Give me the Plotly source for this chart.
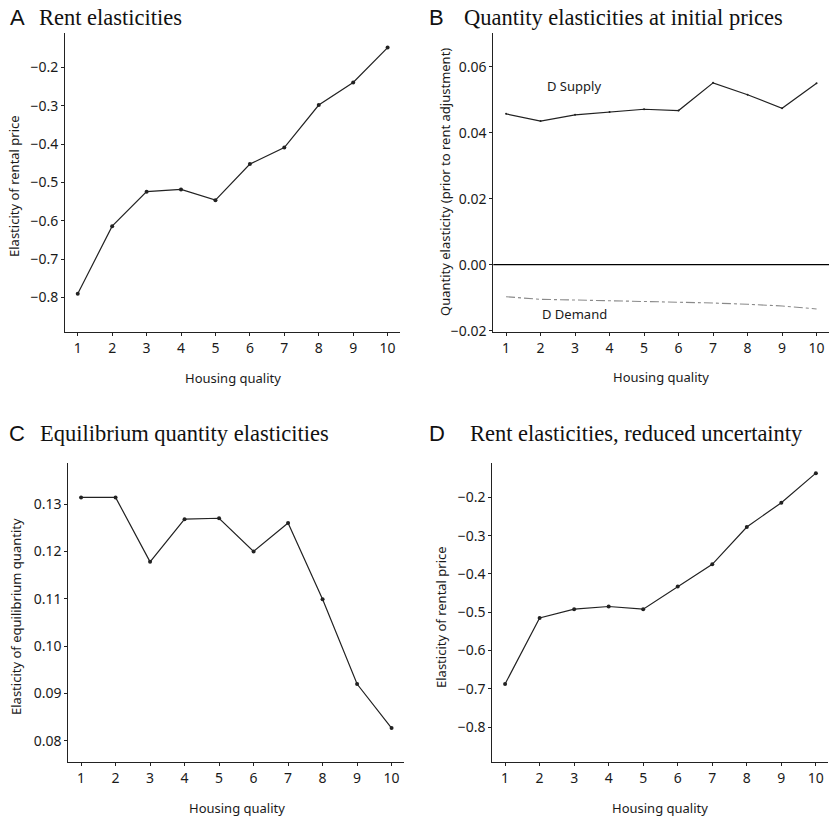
import plotly.graph_objects as go

quality = list(range(1, 11))
x_ticks = [str(q) for q in quality]

rent_elast = [-0.790, -0.614, -0.524, -0.518, -0.546, -0.452, -0.409, -0.298, -0.239, -0.148]
supply_elast = [0.0457, 0.0435, 0.0454, 0.0463, 0.0471, 0.0467, 0.0551, 0.0515, 0.0474, 0.0550]
demand_elast = [-0.0097, -0.0105, -0.0107, -0.0109, -0.0111, -0.0114, -0.0116, -0.0120, -0.0125, -0.0134]
eq_qty_elast = [0.1314, 0.1314, 0.1178, 0.1268, 0.1270, 0.1200, 0.1260, 0.1099, 0.0920, 0.0827]
rent_elast_reduced = [-0.687, -0.515, -0.492, -0.485, -0.492, -0.433, -0.375, -0.2775, -0.214, -0.137]

rent_ticks = [-0.2, -0.3, -0.4, -0.5, -0.6, -0.7, -0.8]
qty_ticks = [0.06, 0.04, 0.02, 0.00, -0.02]
eq_ticks = [0.13, 0.12, 0.11, 0.10, 0.09, 0.08]

W, H = 829, 819
FIG_H = 827
TICK_FONT = dict(family="Noto Sans", size=14, color="#1a1a1a")
LINE_COL = "#222222"

fig = go.Figure()


def px_x(p):
    return p / W


def px_y(p):
    return 1 - p / H


panels = {
    "A": ("x", "y", (65, 400), (33, 332)),
    "B": ("x2", "y2", (493.3, 829), (33, 331.7)),
    "C": ("x3", "y3", (68.3, 404), (463.3, 761.7)),
    "D": ("x4", "y4", (492.3, 828.3), (462.7, 761.7)),
}

line_style = dict(color=LINE_COL, width=1.2)
marker_style = dict(color=LINE_COL, size=4)

fig.add_trace(go.Scatter(x=quality, y=rent_elast, mode="lines+markers", line=line_style,
                         marker=marker_style, xaxis="x", yaxis="y", showlegend=False))
fig.add_trace(go.Scatter(x=[0.6, 10.4], y=[0, 0], mode="lines", line=dict(color="black", width=1.2),
                         xaxis="x2", yaxis="y2", showlegend=False, hoverinfo="skip"))
fig.add_trace(go.Scatter(x=quality, y=supply_elast, mode="lines+markers", line=line_style,
                         marker=dict(color=LINE_COL, size=2), xaxis="x2", yaxis="y2", showlegend=False))
fig.add_trace(go.Scatter(x=quality, y=demand_elast, mode="lines",
                         line=dict(color="#8a8a8a", width=1.1, dash="dashdot"),
                         xaxis="x2", yaxis="y2", showlegend=False))
fig.add_trace(go.Scatter(x=quality, y=eq_qty_elast, mode="lines+markers", line=line_style,
                         marker=marker_style, xaxis="x3", yaxis="y3", showlegend=False))
fig.add_trace(go.Scatter(x=quality, y=rent_elast_reduced, mode="lines+markers", line=line_style,
                         marker=marker_style, xaxis="x4", yaxis="y4", showlegend=False))

yranges = {"A": [-0.89, -0.11], "B": [-0.0203, 0.0702], "C": [0.0756, 0.1386], "D": [-0.89, -0.1097]}
yticks = {"A": rent_ticks, "B": qty_ticks, "C": eq_ticks, "D": rent_ticks}
yfmt = {"A": ".1f", "B": ".2f", "C": ".2f", "D": ".1f"}

layout = {}
for key, (xa, ya, xd, yd) in panels.items():
    xname = "xaxis" + xa[1:]
    yname = "yaxis" + ya[1:]
    layout[xname] = dict(
        domain=[max(0, px_x(xd[0])), min(1, px_x(xd[1]))], range=[0.63, 10.36], anchor=ya,
        tickmode="array", tickvals=quality, ticktext=x_ticks,
        showline=True, linecolor="#222", linewidth=1, ticks="outside", ticklen=3,
        tickcolor="#222", showgrid=False, zeroline=False, tickfont=TICK_FONT, fixedrange=True,
    )
    layout[yname] = dict(
        domain=[px_y(yd[1]), px_y(yd[0])], range=yranges[key], anchor=xa,
        tickmode="array", tickvals=yticks[key], tickformat=yfmt[key],
        showline=True, linecolor="#222", linewidth=1, ticks="outside", ticklen=3,
        tickcolor="#222", showgrid=False, zeroline=False, tickfont=TICK_FONT, fixedrange=True,
    )

annotations = []
TITLE_FONT = dict(family="Liberation Serif", size=22.5, color="#111")
LETTER_FONT = dict(family="Liberation Sans", size=22, color="#111")
LABEL_FONT = dict(family="Noto Sans", size=13, color="#1a1a1a")

titles = [
    ("A", "Rent elasticities", 8, 37, 17),
    ("B", "Quantity elasticities at initial prices", 427, 462, 17),
    ("C", "Equilibrium quantity elasticities", 7, 38, 433),
    ("D", "Rent elasticities, reduced uncertainty", 427, 468, 433),
]
for letter, text, lx, tx, cy in titles:
    annotations.append(dict(text=letter, x=px_x(lx), y=px_y(cy), xref="paper", yref="paper",
                            xanchor="left", yanchor="middle", showarrow=False, font=LETTER_FONT))
    annotations.append(dict(text=text, x=px_x(tx), y=px_y(cy), xref="paper", yref="paper",
                            xanchor="left", yanchor="middle", showarrow=False, font=TITLE_FONT))

ytitles = [
    ("Elasticity of rental price", 14, 186),
    ("Quantity elasticity (prior to rent adjustment)", 445, 182),
    ("Elasticity of equilibrium quantity", 16, 617),
    ("Elasticity of rental price", 441, 617),
]
for text, cx, cy in ytitles:
    annotations.append(dict(text=text, x=px_x(cx), y=px_y(cy), xref="paper", yref="paper",
                            xanchor="center", yanchor="middle", textangle=-90, showarrow=False,
                            font=LABEL_FONT))

xtitles = [(233, 378), (661, 377), (237, 808), (660, 808)]
for cx, cy in xtitles:
    annotations.append(dict(text="Housing quality", x=px_x(cx), y=px_y(cy), xref="paper", yref="paper",
                            xanchor="center", yanchor="middle", showarrow=False, font=LABEL_FONT))

annotations.append(dict(text="D Supply", x=2.97, y=0.054, xref="x2", yref="y2", showarrow=False,
                        font=LABEL_FONT, xanchor="center", yanchor="middle"))
annotations.append(dict(text="D Demand", x=2.97, y=-0.0149, xref="x2", yref="y2", showarrow=False,
                        font=LABEL_FONT, xanchor="center", yanchor="middle"))

fig.update_layout(
    width=W, height=FIG_H, margin=dict(l=0, r=0, t=0, b=0),
    paper_bgcolor="white", plot_bgcolor="white",
    annotations=annotations, **layout,
)

fig.write_html(
    "out.html",
    config={"displayModeBar": False},
    post_script="document.body.style.margin='0';document.body.style.overflow='hidden';",
)
